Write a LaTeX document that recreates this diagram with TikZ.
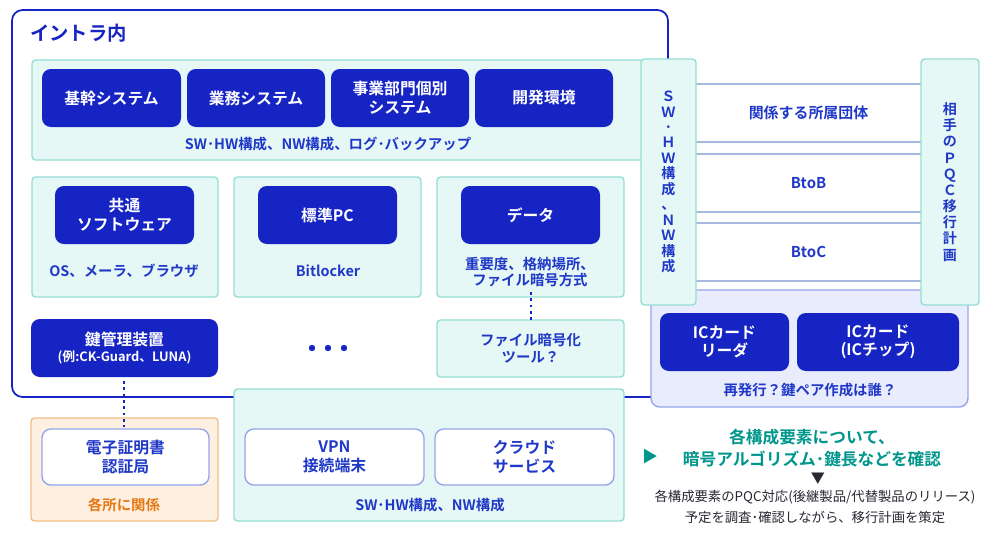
\documentclass[tikz,border=0pt]{standalone}
\usepackage{fontspec}
\setmainfont{Noto Sans CJK JP}[BoldFont={Noto Sans CJK JP Bold}]
\usetikzlibrary{positioning}
\definecolor{navy}{RGB}{22,36,196}
\definecolor{tblue}{RGB}{32,56,200}
\definecolor{cyanfill}{RGB}{230,248,245}
\definecolor{cyanline}{RGB}{150,222,212}
\definecolor{teal}{RGB}{0,150,140}
\definecolor{orfill}{RGB}{253,240,224}
\definecolor{orline}{RGB}{244,190,135}
\definecolor{orangetext}{RGB}{230,120,20}
\definecolor{pale}{RGB}{232,236,252}
\definecolor{paleline}{RGB}{150,165,235}
\definecolor{rowline}{RGB}{170,185,225}
\definecolor{dark}{RGB}{40,40,50}
\tikzset{
  grp/.style={draw=cyanline, fill=cyanfill, line width=0.8pt, rounded corners=2pt},
  btn/.style={fill=navy, rounded corners=5pt, text=white, font=\fontsize{9}{10.5}\selectfont\bfseries, align=center},
  wbox/.style={draw=paleline, fill=white, line width=0.8pt, rounded corners=5pt, text=tblue, font=\fontsize{9}{10.5}\selectfont\bfseries, align=center},
  lbl/.style={text=tblue, font=\fontsize{8.2}{9.5}\selectfont\bfseries, align=center},
  vtext/.style={text=tblue, font=\fontsize{8}{8.8}\selectfont\bfseries, align=center},
  dots/.style={navy, line width=1.6pt, dotted}
}
\newcommand{\btnbox}[4]{\path[btn] (#1) rectangle (#2) node[midway] (#3) {#4};}
\begin{document}
\begin{tikzpicture}[x=0.02cm, y=-0.02cm]
\useasboundingbox (0,0) rectangle (1000,545);

% intra
\draw[navy, line width=1pt, fill=white, rounded corners=6pt] (12,10) rectangle (668,397);
\node[anchor=west, text=navy, font=\fontsize{11}{13}\selectfont\bfseries] (title) at (24,33) {イントラ内};

\path[grp] (32,60) rectangle (652,160);
\btnbox{42,69}{181,127}{kikan}{基幹システム}
\btnbox{187,69}{325,127}{gyomu}{業務システム}
\btnbox{331,69}{469,127}{jigyo}{事業部門個別\\システム}
\btnbox{475,69}{613,127}{kaihatsu}{開発環境}
\node[lbl] (swtop) at (328,144) {SW･HW構成、NW構成、ログ･バックアップ};

\path[grp] (32,177) rectangle (218,297);
\path[grp] (234,177) rectangle (421,297);
\path[grp] (437,177) rectangle (624,297);
\btnbox{55,186}{194,244}{kyotsu}{共通\\ソフトウェア}
\btnbox{258,186}{397,244}{pc}{標準PC}
\btnbox{461,186}{600,244}{data}{データ}
\node[lbl] (osl) at (124,271) {OS、メーラ、ブラウザ};
\node[lbl] (bitl) at (328,271) {Bitlocker};
\node[lbl] (datal) at (530,272) {重要度、格納場所、\\ファイル暗号方式};

\path[btn] (31,319) rectangle (218,377) node[midway] (kagi) {鍵管理装置\\[-1pt]{\fontsize{7.3}{8}\selectfont (例:CK-Guard、LUNA)}};
\foreach \x in {312,328,344} \fill[navy] (\x,348) circle (3.2);
\path[grp] (437,320) rectangle (624,377) node[midway, lbl] (tool) {ファイル暗号化\\ツール？};
\coordinate (dtop) at (531,292);
\coordinate (dbot) at (531,322);
\draw[dots] (dtop) -- (dbot);

% certificate
\path[draw=orline, fill=orfill, line width=0.8pt, rounded corners=2pt] (31,418) rectangle (218,521);
\path[wbox] (42,429) rectangle (209,485) node[midway] (cert) {電子証明書\\認証局};
\node[text=orangetext, font=\fontsize{8.2}{9}\selectfont\bfseries] (kakusho) at (124,505) {各所に関係};
\coordinate (ktop) at (124,381);
\coordinate (kbot) at (124,427);
\draw[dots] (ktop) -- (kbot);

% network
\path[grp] (234,389) rectangle (624,521);
\path[wbox] (245,429) rectangle (424,485) node[midway] (vpn) {VPN\\接続端末};
\path[wbox] (435,429) rectangle (614,485) node[midway] (cloud) {クラウド\\サービス};
\node[lbl] (swbot) at (430,505) {SW･HW構成、NW構成};

% right side
\path[draw=paleline, fill=pale, line width=0.8pt, rounded corners=5pt] (651,290) rectangle (968,407);
\btnbox{660,313}{789,371}{icr}{ICカード\\リーダ}
\btnbox{797,313}{959,371}{icc}{ICカード\\(ICチップ)}
\node[lbl] (saihakko) at (810,390) {再発行？鍵ペア作成は誰？};

\foreach \ya/\yb/\t/\n in {84/142/関係する所属団体/shozoku, 154/212/BtoB/btob, 223/281/BtoC/btoc}
  \path[draw=rowline, fill=white, line width=0.8pt] (690,\ya) rectangle (927,\yb) node[midway, text=tblue, font=\fontsize{8.5}{10}\selectfont\bfseries] (\n) {\t};
\path[grp] (641,59) rectangle (696,305) node[midway, vtext] (vsw) {Ｓ\\Ｗ\\･\\Ｈ\\Ｗ\\構\\成\\、\\Ｎ\\Ｗ\\構\\成};
\path[grp] (921,59) rectangle (979,305) node[midway, vtext, font=\fontsize{8}{9.2}\selectfont\bfseries] (vpqc) {相\\手\\の\\Ｐ\\Ｑ\\Ｃ\\移\\行\\計\\画};

% bottom right
\node[text=teal, font=\fontsize{9}{10}\selectfont] (tri) at (650,457) {▶};
\node[text=teal, font=\fontsize{9.5}{13}\selectfont\bfseries, align=center] (kakunin) at (812,448) {各構成要素について、\\暗号アルゴリズム･鍵長などを確認};
\node[text=dark, font=\fontsize{8}{9}\selectfont] (down) at (818,479) {▼};
\node[text=dark, font=\fontsize{7.6}{11.5}\selectfont, align=center] (yotei) at (815,507) {各構成要素のPQC対応(後継製品/代替製品のリリース)\\予定を調査･確認しながら、移行計画を策定};
\end{tikzpicture}
\end{document}
